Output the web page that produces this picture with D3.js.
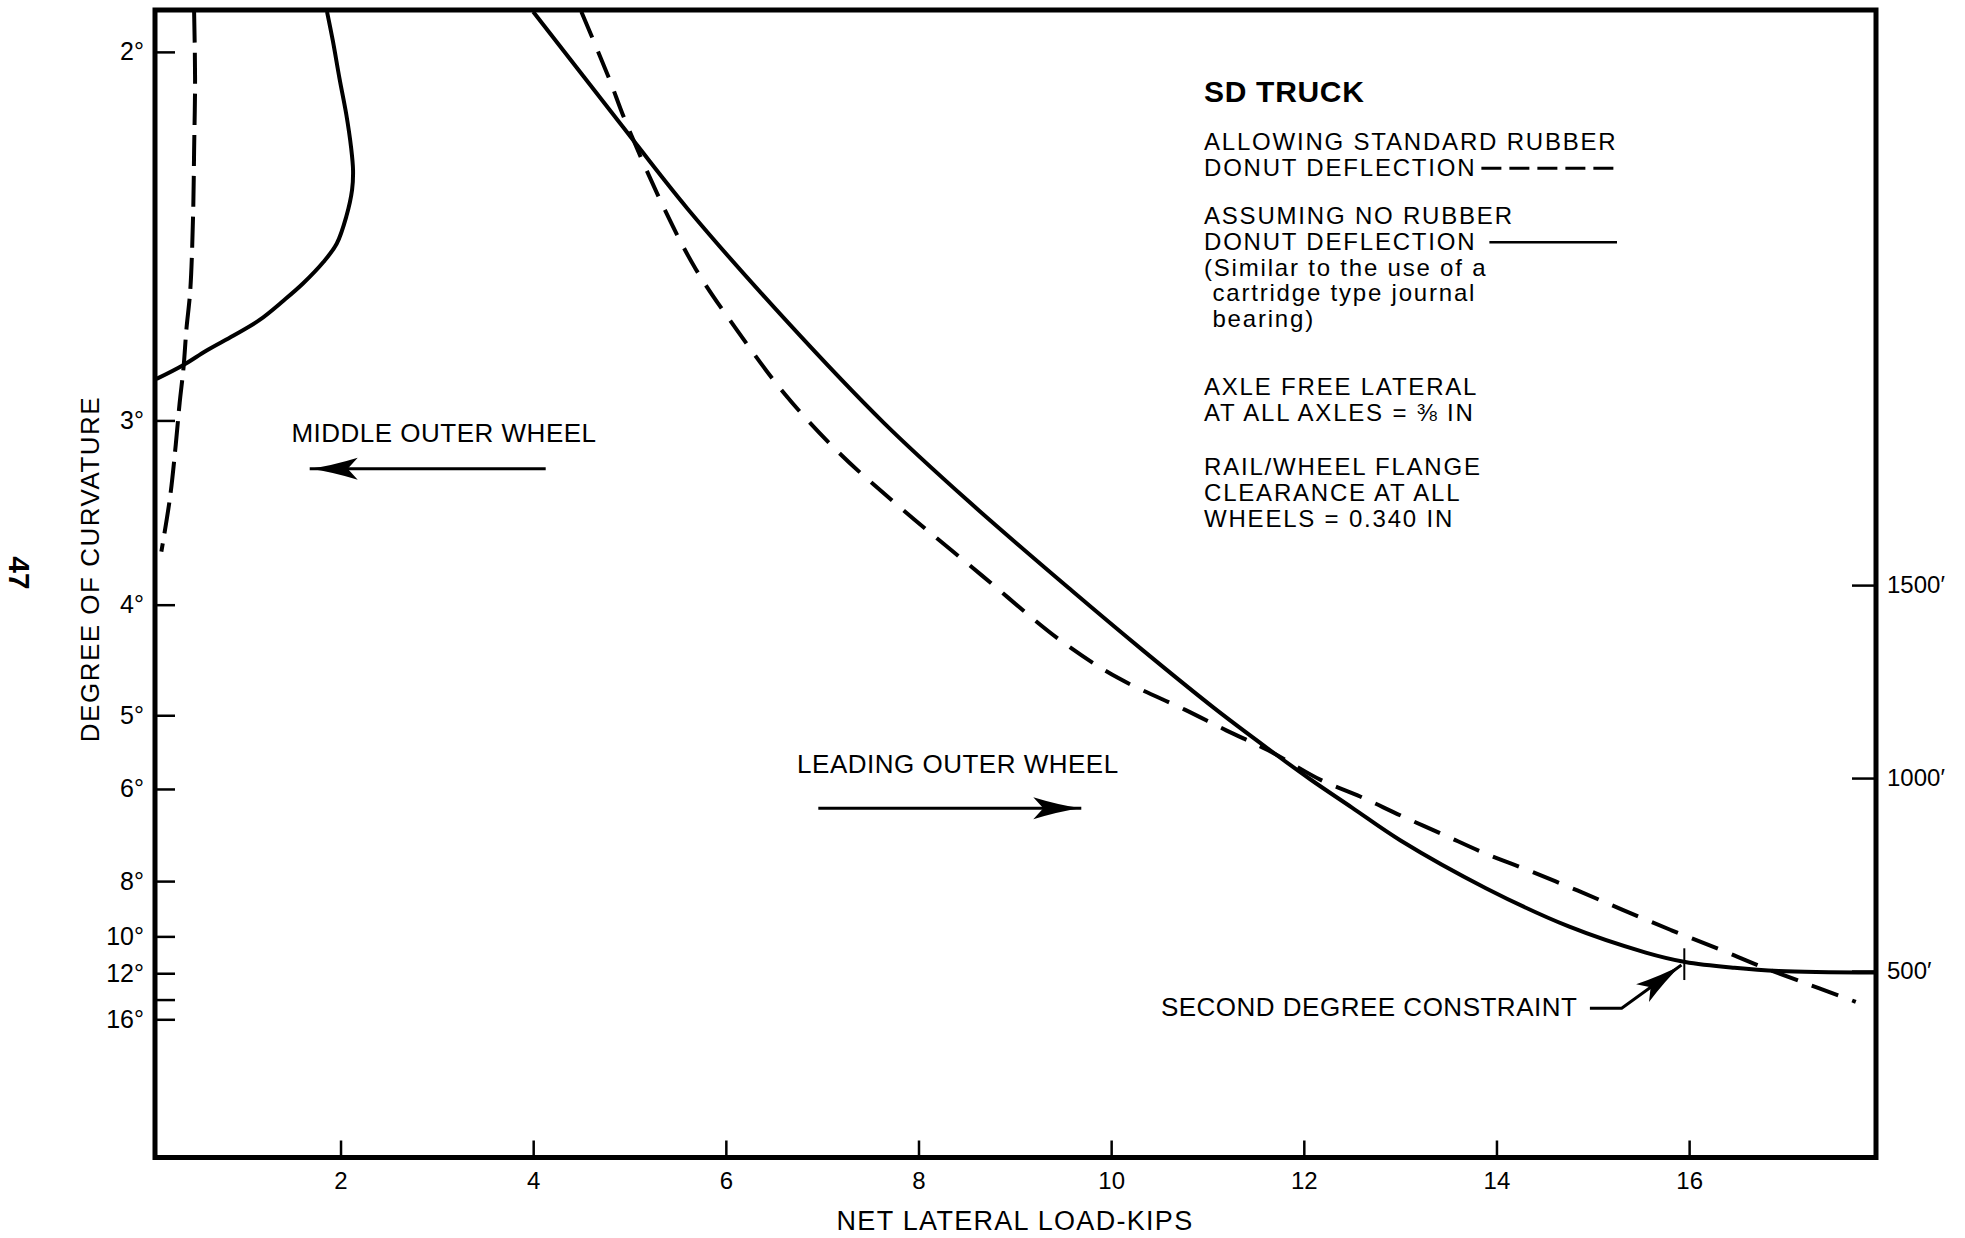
<!DOCTYPE html>
<html>
<head>
<meta charset="utf-8">
<script src="https://cdn.jsdelivr.net/npm/d3@7"></script>
<style>
  body { margin: 0; background: #fff; }
  svg text { font-family: "Liberation Sans", Arial, Helvetica, sans-serif; fill: #000; white-space: pre; }
</style>
</head>
<body>
<svg id="chart" width="1965" height="1238"></svg>
<script>
/*
SD TRUCK
Net lateral load vs degree of curvature
*/

// Axis ticks
var loadTicks = [2, 4, 6, 8, 10, 12, 14, 16];
var degreeTicks = [2, 3, 4, 5, 6, 8, 10, 12, 14, 16];
var degreeLabels = ["2°", "3°", "4°", "5°", "6°", "8°", "10°", "12°", "", "16°"];
var radiusTicks = [1500, 1000, 500];
var radiusLabels = ["1500′", "1000′", "500′"];

// Leading outer wheel, no rubber donut deflection (solid)
var leadSolidLoad = [4.00, 4.91, 5.60, 6.62, 7.64, 8.52, 9.59, 10.33, 11.07, 11.63, 12.07, 12.50, 13.00, 13.89, 14.75, 15.55, 15.96, 16.47, 16.93, 17.94];
var leadSolidDeg  = [1.93, 2.14, 2.33, 2.64, 3.01, 3.37, 3.90, 4.36, 4.92, 5.41, 5.85, 6.32, 6.97, 8.21, 9.57, 10.79, 11.31, 11.66, 11.86, 11.96];

// Leading outer wheel, standard rubber donut deflection (dashed)
var leadDashLoad = [4.50, 4.79, 4.95, 5.36, 5.69, 6.11, 6.62, 7.18, 7.83, 8.66, 9.48, 10.07, 10.77, 11.20, 11.63, 12.18, 12.59, 13.01, 13.45, 13.88, 14.33, 14.84, 15.31, 15.81, 16.30, 16.76, 17.23, 17.62, 17.73];
var leadDashDeg  = [1.93, 2.05, 2.13, 2.33, 2.49, 2.67, 2.90, 3.14, 3.41, 3.80, 4.28, 4.61, 4.94, 5.18, 5.43, 5.86, 6.13, 6.47, 6.85, 7.27, 7.70, 8.28, 8.93, 9.72, 10.59, 11.61, 12.75, 13.85, 14.21];

// Middle outer wheel, no rubber donut deflection (solid)
var midSolidLoad = [1.86, 1.92, 1.99, 2.06, 2.11, 2.13, 2.12, 2.06, 1.96, 1.82, 1.61, 1.41, 1.16, 0.89, 0.61, 0.37, 0.09];
var midSolidDeg  = [1.93, 1.98, 2.05, 2.12, 2.19, 2.24, 2.285, 2.35, 2.42, 2.47, 2.53, 2.58, 2.64, 2.69, 2.74, 2.79, 2.84];

// Middle outer wheel, standard rubber donut deflection (dashed)
var midDashLoad = [0.48, 0.49, 0.48, 0.47, 0.44, 0.40, 0.37, 0.33, 0.29, 0.23, 0.14];
var midDashDeg  = [1.93, 2.05, 2.195, 2.34, 2.55, 2.67, 2.80, 2.93, 3.10, 3.35, 3.65];

// Annotations (load-kips, degree)
var labelText = ["MIDDLE OUTER WHEEL", "LEADING OUTER WHEEL", "SECOND DEGREE CONSTRAINT"];
var labelLoad = [1.49, 6.74, 14.84];
var labelDeg  = [3.09, 5.75, 15.59];
var midArrowLoad = [4.13, 1.68];
var midArrowDeg  = [3.21, 3.21];
var leadArrowLoad = [6.96, 9.69];
var leadArrowDeg  = [6.33, 6.33];
var constraintLoad = [14.97, 15.30, 15.92];
var constraintDeg  = [14.82, 14.82, 11.49];
var markLoad = [15.95, 15.95];
var markDeg  = [10.57, 12.46];

// Legend text
var legendTitle = "SD TRUCK";
var legendBlocks = [
  ["ALLOWING STANDARD RUBBER", "DONUT DEFLECTION"],
  ["ASSUMING NO RUBBER", "DONUT DEFLECTION", "(Similar to the use of a", " cartridge type journal", " bearing)"],
  ["AXLE FREE LATERAL", "AT ALL AXLES = ⅜ IN"],
  ["RAIL/WHEEL FLANGE", "CLEARANCE AT ALL", "WHEELS = 0.340 IN"]
];

// Layout
var frame = { left: 155, right: 1876, top: 10, bottom: 1157.5 };
var RAD = 5729.58;   // radius in feet = RAD / degree

var svg = d3.select("#chart");

// Scales: x in kips, vertical axis is linear in radius
var x = d3.scaleLinear().domain([0.074, 17.94]).range([frame.left, frame.right]);
var r = d3.scaleLinear().domain([0, RAD / 1.927]).range([frame.bottom, frame.top]);
// right hand radius scale is drawn a few pixels low in the original
var r2 = d3.scaleLinear().domain(r.domain()).range([frame.bottom + 6.5, frame.top + 6.5]);
function y(deg) { return r(RAD / deg); }

function translate(x, y) {
  return "translate(" + x + " " + y + ")";
}

function rotate(a) {
  return "rotate(" + a + ")";
}

function zip(xs, ys) {
  return xs.map(function(d, i) { return [d, ys[i]]; });
}

// Barbed arrow head, tip at (x2, y2)
function arrowHead(g, x1, y1, x2, y2) {
  var a = Math.atan2(y2 - y1, x2 - x1) * 180 / Math.PI;
  g.append("path")
    .attr("d", "M0,0 Q-22,-3 -48,-11 L-38,0 L-48,11 Q-22,3 0,0 Z")
    .attr("transform", translate(x2, y2) + " " + rotate(a))
    .style("fill", "#000")
    ;
}

// Clip
svg.append("clipPath")
  .attr("id", "plot-clip")
  .append("rect")
  .attr("x", frame.left)
  .attr("y", frame.top)
  .attr("width", frame.right - frame.left)
  .attr("height", frame.bottom - frame.top)
  ;

// Curves
var line = d3.line()
  .x(function(d) { return x(d[0]); })
  .y(function(d) { return y(d[1]); })
  .curve(d3.curveCatmullRom.alpha(0.5))
  ;

var curves = [
  { pts: zip(midSolidLoad, midSolidDeg), dash: null },
  { pts: zip(midDashLoad, midDashDeg), dash: "31,10" },
  { pts: zip(leadDashLoad, leadDashDeg), dash: "28,15" },
  { pts: zip(leadSolidLoad, leadSolidDeg), dash: null }
];

svg.append("g")
  .attr("class", "curves")
  .attr("clip-path", "url(#plot-clip)")
  .selectAll("path")
  .data(curves)
  .enter().append("path")
    .attr("d", function(d) { return line(d.pts); })
    .style("fill", "none")
    .style("stroke", "#000")
    .style("stroke-width", 4)
    .style("stroke-dasharray", function(d) { return d.dash; })
    ;

// Axes
var xAxis = d3.axisBottom(x)
  .tickValues(loadTicks)
  .tickSize(-17)
  .tickPadding(14.5)
  .tickFormat(d3.format("d"))
  ;

var yAxis = d3.axisLeft(r)
  .tickValues(degreeTicks.map(function(d) { return RAD / d; }))
  .tickSize(-20)
  .tickPadding(11)
  .tickFormat(function(d, i) { return degreeLabels[i]; })
  ;

var rAxis = d3.axisRight(r2)
  .tickValues(radiusTicks)
  .tickSize(-24)
  .tickPadding(11)
  .tickFormat(function(d, i) { return radiusLabels[i]; })
  ;

var gx = svg.append("g").attr("transform", translate(0, frame.bottom)).call(xAxis);
var gy = svg.append("g").attr("transform", translate(frame.left, 0)).call(yAxis);
var gr = svg.append("g").attr("transform", translate(frame.right, 0)).call(rAxis);

[gx, gy, gr].forEach(function(g) {
  g.select(".domain").remove();
  g.selectAll(".tick line").style("stroke", "#000").style("stroke-width", 2.5);
  g.selectAll(".tick text")
    .style("font-family", '"Liberation Sans", Arial, sans-serif')
    .style("font-size", "24px")
    .style("fill", "#000")
    ;
});
gy.selectAll(".tick text").style("font-size", "25px");

// Frame
svg.append("rect")
  .attr("x", frame.left)
  .attr("y", frame.top)
  .attr("width", frame.right - frame.left)
  .attr("height", frame.bottom - frame.top)
  .style("fill", "none")
  .style("stroke", "#000")
  .style("stroke-width", 5)
  ;

// Axis titles
svg.append("text")
  .attr("x", 1015)
  .attr("y", 1230)
  .style("text-anchor", "middle")
  .style("font-size", "27px")
  .style("letter-spacing", "1.3px")
  .text("NET LATERAL LOAD-KIPS")
  ;

svg.append("text")
  .attr("transform", translate(99, 569) + " " + rotate(-90))
  .style("text-anchor", "middle")
  .style("font-size", "26px")
  .style("letter-spacing", "1.5px")
  .text("DEGREE OF CURVATURE")
  ;

// Page number
svg.append("text")
  .attr("transform", translate(9, 573) + " " + rotate(90))
  .style("text-anchor", "middle")
  .style("font-size", "30px")
  .style("font-weight", "bold")
  .text("47")
  ;

// Annotation labels
var notes = svg.append("g").attr("class", "notes");

notes.selectAll("text")
  .data(labelText)
  .enter().append("text")
    .attr("x", function(d, i) { return x(labelLoad[i]); })
    .attr("y", function(d, i) { return y(labelDeg[i]); })
    .style("text-anchor", function(d, i) { return i == 2 ? "end" : "start"; })
    .style("font-size", "26px")
    .style("letter-spacing", "0.5px")
    .text(function(d) { return d; })
    ;

// Arrows
[[midArrowLoad, midArrowDeg], [leadArrowLoad, leadArrowDeg], [constraintLoad, constraintDeg]].forEach(function(a) {
  var pts = zip(a[0], a[1]).map(function(d) { return [x(d[0]), y(d[1])]; });
  notes.append("path")
    .attr("d", d3.line()(pts))
    .style("fill", "none")
    .style("stroke", "#000")
    .style("stroke-width", 3)
    ;
  var n = pts.length;
  arrowHead(notes, pts[n - 2][0], pts[n - 2][1], pts[n - 1][0], pts[n - 1][1]);
});

// Second degree constraint mark
notes.append("line")
  .attr("x1", x(markLoad[0]))
  .attr("x2", x(markLoad[1]))
  .attr("y1", y(markDeg[0]))
  .attr("y2", y(markDeg[1]))
  .style("stroke", "#000")
  .style("stroke-width", 2)
  ;

// Legend
var legend = svg.append("g").attr("class", "legend").attr("transform", translate(1204, 0));
var blockTop = [150, 224, 395, 475];
var lineH = 25.8;

legend.append("text")
  .attr("x", 0)
  .attr("y", 102)
  .style("font-size", "30px")
  .style("font-weight", "bold")
  .style("letter-spacing", "0.7px")
  .text(legendTitle)
  ;

legendBlocks.forEach(function(block, b) {
  block.forEach(function(t, i) {
    var yy = blockTop[b] + i * lineH;
    var txt = legend.append("text")
      .attr("x", 0)
      .attr("y", yy)
      .style("font-size", "24px")
      .style("letter-spacing", "1.8px")
      .text(t)
      ;
    // Line samples after "DONUT DEFLECTION"
    if (b < 2 && i == 1) {
      var end = txt.node().getComputedTextLength();
      legend.append("line")
        .attr("x1", end + (b == 0 ? 5 : 13))
        .attr("x2", 413)
        .attr("y1", yy - 7.5)
        .attr("y2", yy - 7.5)
        .style("stroke", "#000")
        .style("stroke-width", b == 0 ? 3 : 2.5)
        .style("stroke-dasharray", b == 0 ? "20,8" : null)
        ;
    }
  });
});
</script>
</body>
</html>
